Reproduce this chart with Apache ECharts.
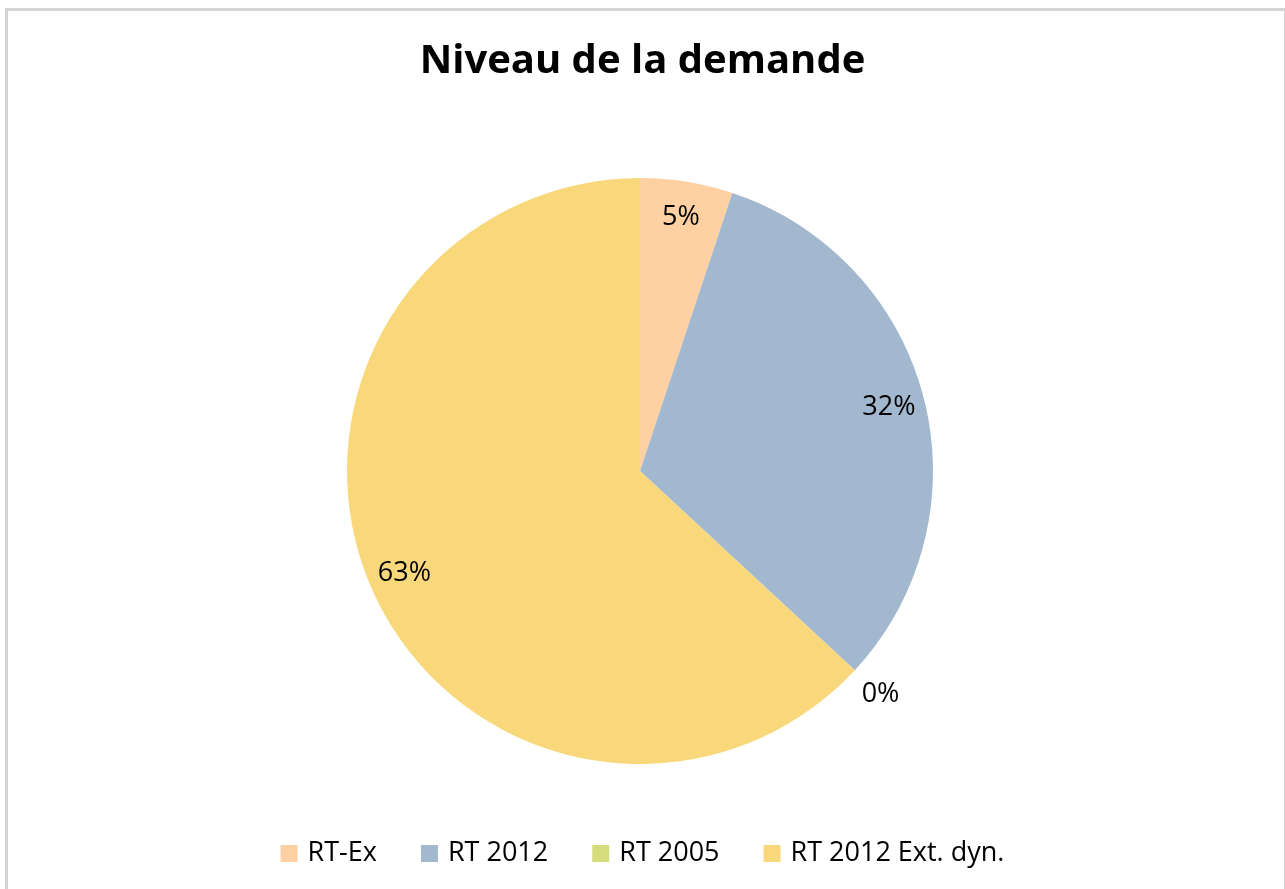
<!DOCTYPE html>
<html>
<head>
<meta charset="utf-8">
<script src="https://cdn.jsdelivr.net/npm/echarts@6/dist/echarts.min.js"></script>
<style>
  html, body { margin: 0; padding: 0; background: #fff; }
  #frame { position: absolute; left: 5px; top: 8px; width: 1276px; height: 884px; border: 3px solid #d4d4d4; border-bottom: none; }
  #chart { position: absolute; left: 0; top: 0; width: 1285px; height: 889px; }
</style>
</head>
<body>
<div id="frame"></div>
<div id="chart"></div>
<script>
const categories = ['RT-Ex', 'RT 2012', 'RT 2005', 'RT 2012 Ext. dyn.']
const values = [5.1, 31.8, 0, 63.1]
const colors = ['#FFD0A2', '#A2B8CF', '#D4DC7C', '#F9D87C']

const chart = echarts.init(document.getElementById('chart'))
const fmt = p => Math.round(p.percent) + '%'
const font = 'Open Sans'
const labelStyle = { fontSize: 27, color: '#000', fontFamily: font }

// transparent ring used only to carry labels at a given radius
function labelRing(radius, pick) {
  return {
    type: 'pie',
    radius: radius,
    center: [640, 471],
    startAngle: 90,
    silent: true,
    legendHoverLink: false,
    itemStyle: { color: 'transparent' },
    label: Object.assign({ show: true, position: 'inside', formatter: fmt }, labelStyle),
    labelLine: { show: false },
    data: categories.map((name, i) => ({
      name: name + ' ',
      value: values[i],
      label: { show: pick(values[i]) }
    }))
  }
}

chart.setOption({
  color: colors,
  animation: false,
  title: {
    text: 'Niveau de la demande',
    left: 'center',
    top: 37,
    textStyle: { fontSize: 40, fontWeight: 'bold', color: '#000', fontFamily: font }
  },
  legend: {
    bottom: 17,
    left: 'center',
    itemWidth: 17,
    itemHeight: 17,
    itemGap: 44,
    icon: 'rect',
    data: categories,
    textStyle: { fontSize: 27, color: '#000', fontFamily: font, padding: [0, 0, 0, 5] }
  },
  series: [
    {
      name: 'demande',
      type: 'pie',
      radius: [0, 293],
      center: [640, 471],
      startAngle: 90,
      label: { show: false },
      labelLine: { show: false },
      emphasis: { disabled: true },
      data: categories.map((name, i) => ({ name: name, value: values[i] }))
    },
    labelRing([215, 293], v => v !== 0),
    // the zero slice gets its label just outside the rim
    labelRing([293, 357], v => v === 0)
  ]
})
</script>
</body>
</html>
